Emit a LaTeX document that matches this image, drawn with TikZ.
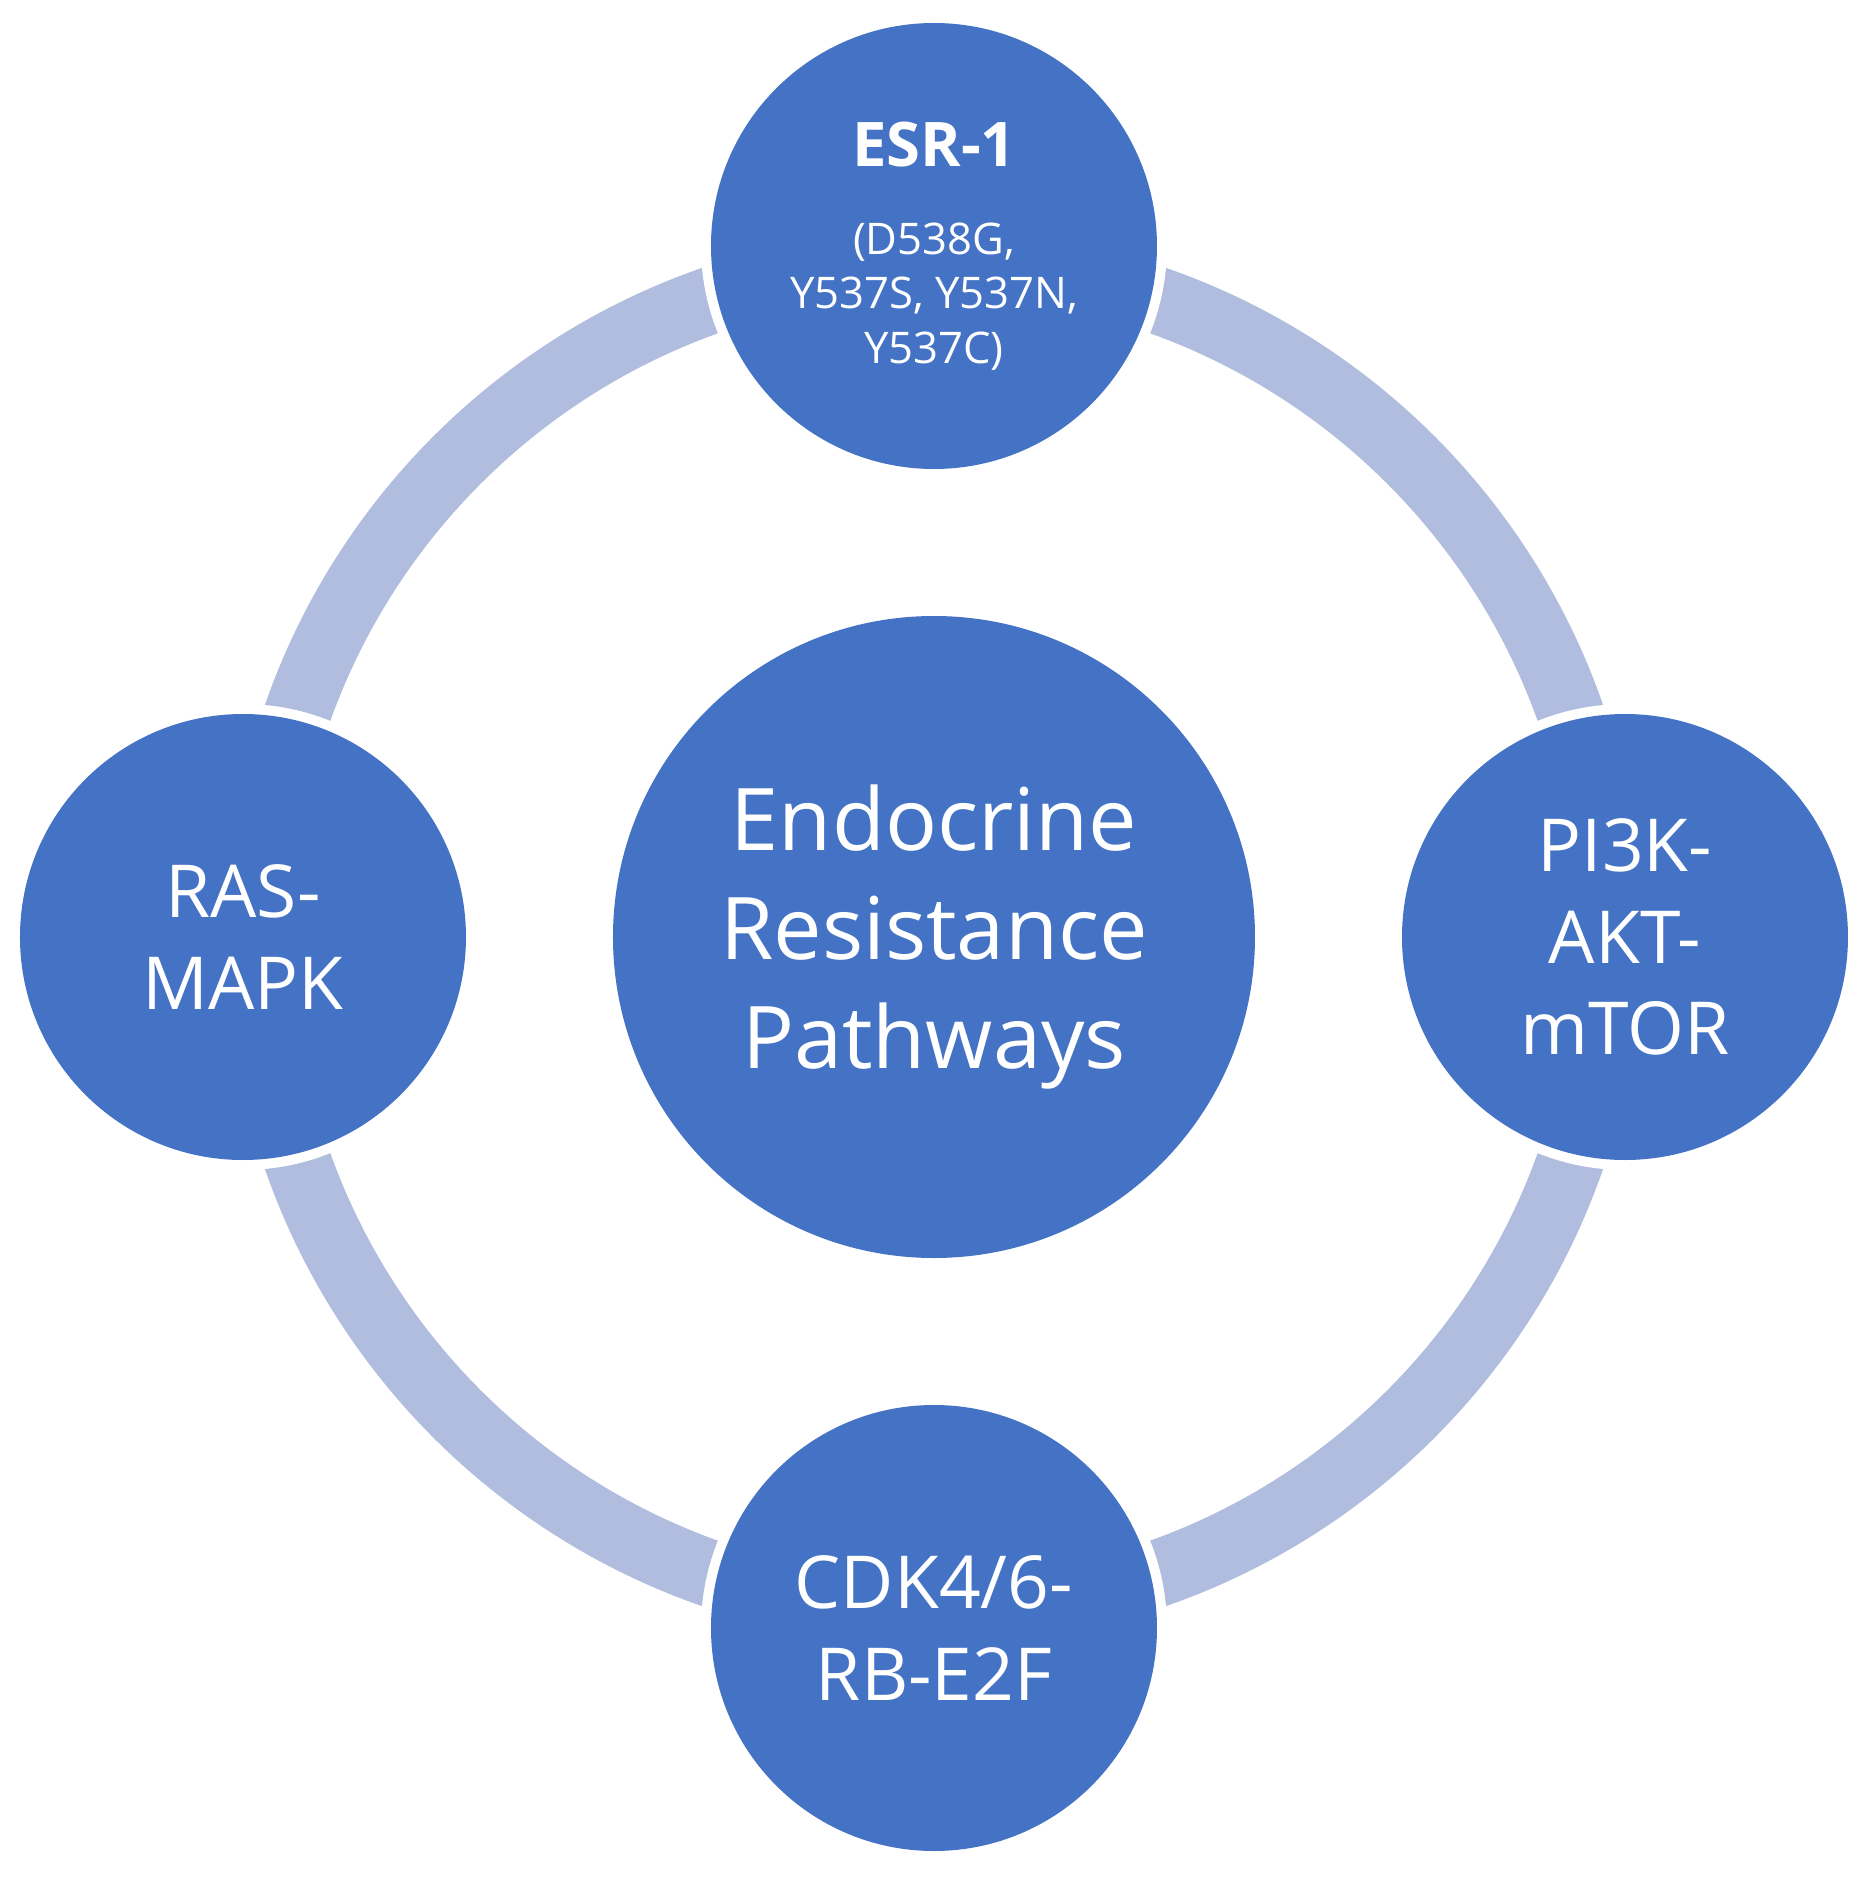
\documentclass[tikz,border=0pt]{standalone}
\usepackage{fontspec}
\setmainfont{Open Sans}
\usetikzlibrary{positioning}
\definecolor{pathblue}{RGB}{68,114,196}
\definecolor{ringblue}{RGB}{176,189,223}
\tikzset{
  hubcircle/.style={circle, fill=pathblue, text=white, align=center,
    minimum size=6.42cm, inner sep=0pt, font=\fontsize{24.6}{31.1}\selectfont},
  pathcircle/.style={circle, fill=pathblue, text=white, align=center,
    minimum size=4.46cm, inner sep=0pt, font=\fontsize{20.8}{26.1}\selectfont,
    preaction={draw=white, line width=0.2cm}},
  ringline/.style={draw=ringblue, line width=0.67cm},
}

\begin{document}
\begin{tikzpicture}
  \useasboundingbox (-9.34,-9.47) rectangle (9.32,9.37);
  \node[hubcircle] (hub) at (0,0) {Endocrine\\Resistance\\Pathways};
  % ring behind the outer circles
  \draw[ringline] (hub.center) circle[radius=6.745cm];
  \node[pathcircle, font=\fontsize{12.4}{15.5}\selectfont] (esr) at (0,6.91)
    {{\fontsize{17.5}{21}\selectfont\bfseries ESR-1}\\[9.6pt](D538G,\\Y537S, Y537N,\\Y537C)};
  \node[pathcircle] (ras) at (-6.91,0) {RAS-\\MAPK};
  \node[pathcircle] (pik) at (6.91,0) {PI3K-\\AKT-\\mTOR};
  \node[pathcircle] (cdk) at (0,-6.91) {CDK4/6-\\RB-E2F};
\end{tikzpicture}
\end{document}
